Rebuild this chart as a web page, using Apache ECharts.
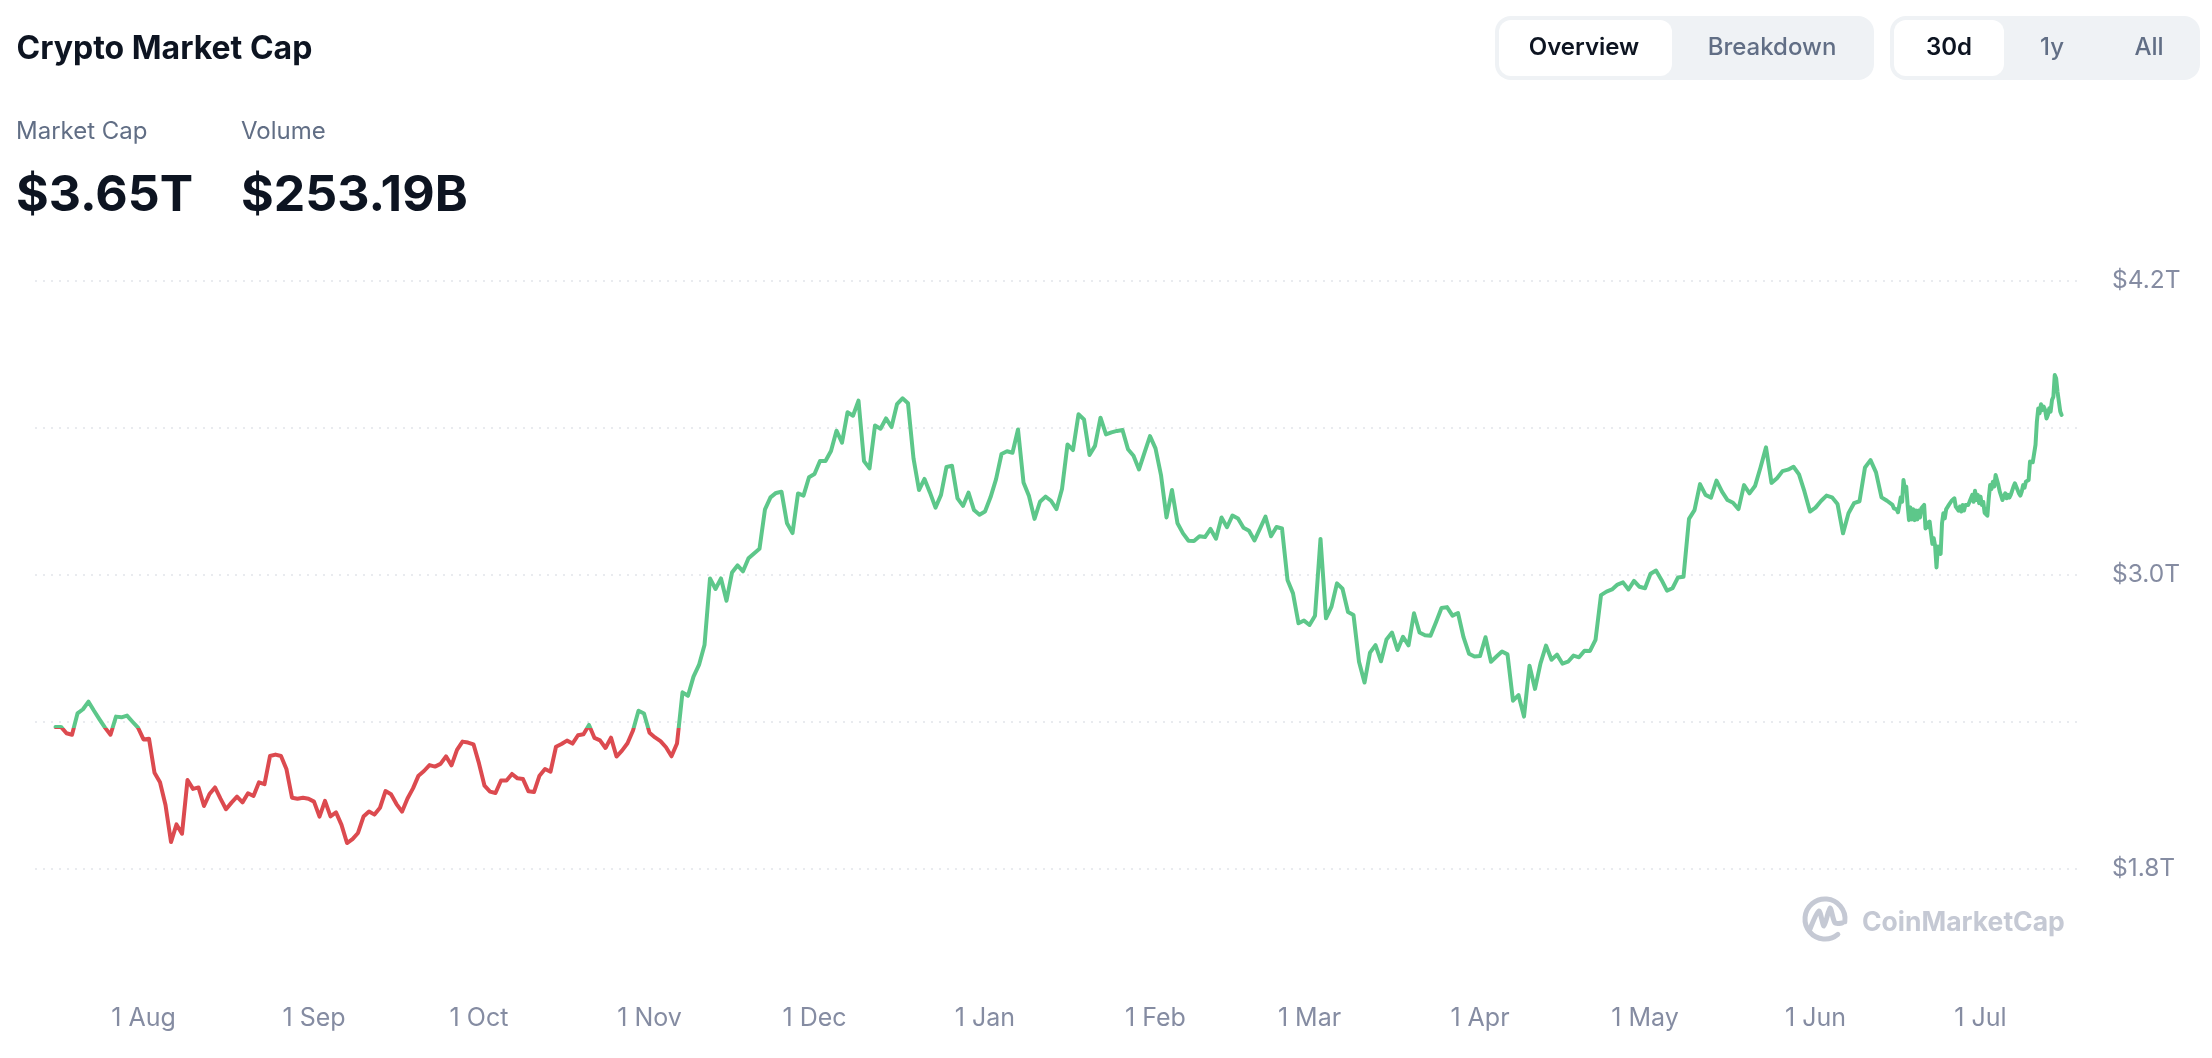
<!DOCTYPE html>
<html>
<head>
<meta charset="utf-8">
<title>Crypto Market Cap</title>
<script src="https://cdn.jsdelivr.net/npm/echarts@6/dist/echarts.min.js"></script>
<style>
html,body{margin:0;padding:0;background:#fff;}
#chart{width:2212px;height:1058px;}
</style>
</head>
<body>
<div id="chart"></div>
<script>
const startDate = '2024-07-16';
const baseline = 2.377; // first value of the period, in $T

// one reading per day, from the start date, $T
const dailyValues = [
2.380,2.380,2.354,2.348,2.435,2.452,2.483,2.446,2.411,2.377,2.348,2.422,2.419,2.426,2.401,2.377,
2.329,2.332,2.193,2.154,2.061,1.910,1.982,1.944,2.163,2.127,2.133,2.057,2.106,2.133,2.087,2.044,
2.071,2.095,2.072,2.109,2.098,2.154,2.146,2.261,2.267,2.261,2.207,2.091,2.087,2.091,2.087,2.075,
2.014,2.078,2.015,2.031,1.980,1.906,1.922,1.947,2.014,2.035,2.022,2.050,2.118,2.105,2.065,
2.034,2.088,2.129,2.181,2.200,2.224,2.218,2.229,2.260,2.223,2.286,2.320,2.316,2.309,2.231,2.140,
2.116,2.110,2.161,2.161,2.188,2.170,2.167,2.117,2.114,2.181,2.208,2.197,2.299,2.310,2.324,2.312,
2.346,2.350,2.388,2.335,2.325,2.294,2.336,2.259,2.283,2.313,2.365,2.446,2.435,2.356,2.337,2.322,
2.297,2.260,2.312,2.521,2.507,2.585,2.633,2.714,
2.986,2.943,2.986,2.895,3.010,3.039,3.015,3.068,3.088,3.107,3.268,3.317,3.335,3.340,3.211,3.171,
3.333,3.324,3.399,3.412,3.465,3.465,3.506,3.589,3.540,3.664,3.650,3.712,3.465,3.435,3.610,3.597,
3.639,3.604,3.697,3.721,3.701,3.476,3.347,3.392,3.336,3.275,3.327,3.441,3.446,3.313,3.282,3.336,
3.265,3.246,3.259,3.317,3.390,3.494,3.505,3.499,3.594,3.378,3.322,3.229,3.299,3.320,3.303,3.269,
3.351,3.533,3.510,3.656,3.635,3.490,3.527,3.642,3.574,3.582,3.588,3.592,3.513,3.487,3.431,3.499,
3.567,3.517,3.408,3.235,3.347,3.211,3.170,3.140,3.139,3.158,3.155,3.188,3.148,3.235,3.195,3.243,
3.231,3.193,3.181,3.141,3.189,3.238,3.158,3.196,3.190,
2.980,2.925,2.803,2.814,2.796,2.834,3.147,2.823,2.871,2.966,2.944,2.849,2.837,2.646,2.561,2.683,
2.714,2.648,2.737,2.765,2.694,2.748,2.713,2.844,2.765,2.754,2.752,2.807,2.865,2.869,2.834,2.845,
2.746,2.679,2.667,2.669,2.746,2.646,2.667,2.688,2.676,2.487,2.510,2.422,2.630,2.535,2.639,2.712,
2.654,2.675,2.638,2.646,2.671,2.664,2.691,2.690,2.735,2.918,2.932,2.941,2.961,2.970,2.941,2.976,
2.952,2.946,3.005,3.018,2.980,2.936,2.946,2.990,2.993,3.229,3.265,3.371,3.327,3.316,3.385,3.340,
3.306,3.295,3.269,3.367,3.333,3.363,3.439,3.521,3.376,3.395,3.424,3.430,3.442,3.411,3.340,3.259,
3.275,3.302,3.324,3.317,3.290,3.170,3.252,3.293,3.301,3.439,3.469,3.419,3.317,3.303
];

// the last 30 days are finer: one reading per quarter day, $T
const intradayValues = [
3.286,3.272,3.265,3.268,3.256,3.259,3.317,3.299,3.388,3.347,3.361,3.286,3.224,3.276,3.227,3.268,
3.224,3.263,3.227,3.263,3.235,3.272,3.279,3.286,3.190,3.214,3.195,3.218,3.170,3.127,3.150,3.118,
3.031,3.116,3.122,3.086,3.211,3.252,3.231,3.268,3.265,3.286,3.282,3.303,3.299,3.313,3.279,3.286,
3.263,3.279,3.259,3.286,3.263,3.286,3.288,3.286,3.299,3.293,3.327,3.299,3.344,3.306,3.327,3.293,
3.320,3.286,3.299,3.254,3.252,3.242,3.313,3.367,3.351,3.381,3.361,3.408,3.388,3.367,3.340,3.333,
3.306,3.320,3.333,3.313,3.327,3.316,3.327,3.320,3.361,3.374,3.367,3.347,3.333,3.324,3.340,3.367,
3.356,3.381,3.378,3.388,3.463,3.456,3.460,3.463,3.531,3.626,3.680,3.660,3.697,3.673,3.687,3.673,
3.639,3.653,3.680,3.667,3.714,3.728,3.816,3.803,3.748,3.751,3.667,3.653
];

const xTickDates = ['2024-08-01','2024-09-01','2024-10-01','2024-11-01','2024-12-01','2025-01-01','2025-02-01','2025-03-01','2025-04-01','2025-05-01','2025-06-01','2025-07-01'];
const xTickLabels = ['1 Aug','1 Sep','1 Oct','1 Nov','1 Dec','1 Jan','1 Feb','1 Mar','1 Apr','1 May','1 Jun','1 Jul'];
const yTickValues = [1.8,3.0,4.2];

const titleText = 'Crypto Market Cap';
const statLabels = ['Market Cap','Volume'];
const statValues = ['$3.65T','$253.19B'];
const viewTabs = ['Overview','Breakdown'];
const rangeTabs = ['30d','1y','All'];
const brandName = 'CoinMarketCap';

const DAY = 86400000;
const toTime = s => { const p = s.split('-').map(Number); return new Date(p[0], p[1]-1, p[2]).getTime(); };
const t0 = toTime(startDate);
const seriesData = dailyValues.map((v,i)=>[t0+i*DAY,v])
  .concat(intradayValues.map((v,k)=>[t0+(dailyValues.length+k/4)*DAY,v]));
const xTickTimes = xTickDates.map(toTime);

const FONT = 'Inter, "Noto Sans", sans-serif';
const INK = '#0d1421', MUTED = '#616e85', AXIS = '#858ca2', PILL = '#eff2f5', MARK = '#c5c9d4';

const text = (x,y,t,size,weight,fill,align) => ({
  type:'text', silent:true,
  style:{x,y,text:t,fill,align:align||'left',verticalAlign:'middle',
         font:`${weight} ${size}px ${FONT}`}
});
const rect = (x,y,w,h,r,fill) => ({type:'rect',silent:true,shape:{x,y,width:w,height:h,r},style:{fill}});

const elements = [
  text(16.5,49.5,titleText,32,700,INK),
  text(16,131.5,statLabels[0],24,400,MUTED),
  text(241,131.5,statLabels[1],24,400,MUTED),
  text(16,196,statValues[0],50,700,INK),
  text(241,196,statValues[1],50,700,INK),
  rect(1495,16,379,64,16,PILL),
  rect(1499,20,173,56,12,'#ffffff'),
  text(1584,48,viewTabs[0],24,600,INK,'center'),
  text(1772,48,viewTabs[1],24,500,MUTED,'center'),
  rect(1890,16,310,64,16,PILL),
  rect(1894,20,110,56,12,'#ffffff'),
  text(1949,48,rangeTabs[0],24,600,INK,'center'),
  text(2052,48,rangeTabs[1],24,500,MUTED,'center'),
  text(2149,48,rangeTabs[2],24,500,MUTED,'center'),
  {type:'arc',silent:true,
   shape:{cx:1825,cy:919,r:20,startAngle:50*Math.PI/180,endAngle:368*Math.PI/180,clockwise:true},
   style:{stroke:MARK,lineWidth:5,fill:null,lineCap:'round'}},
  {type:'polyline',silent:true,
   shape:{points:[[1810,929],[1819,911],[1824,926],[1830,908],[1835,923],[1842,923]],smooth:0.25},
   style:{stroke:MARK,lineWidth:5,fill:null,lineCap:'round',lineJoin:'round'}},
  text(1862,923,brandName,26.5,700,MARK)
];

const chart = echarts.init(document.getElementById('chart'), null, {renderer:'canvas'});
chart.setOption({
  animation:false,
  backgroundColor:'#ffffff',
  textStyle:{fontFamily:FONT},
  grid:{left:35,right:135,top:281,bottom:189,containLabel:false},
  xAxis:{
    type:'value',
    min:t0-3.727*DAY,
    max:t0+367.545*DAY,
    axisLine:{show:false},
    axisTick:{show:false},
    splitLine:{show:false},
    axisLabel:{
      customValues:xTickTimes,
      margin:137,
      fontSize:25,
      color:AXIS,
      fontFamily:FONT,
      hideOverlap:false,
      formatter:v=>xTickLabels[xTickTimes.indexOf(v)]
    }
  },
  yAxis:{
    type:'value',
    position:'right',
    min:1.8,max:4.2,interval:0.6,
    axisLine:{show:false},
    axisTick:{show:false},
    splitLine:{show:true,lineStyle:{color:'#e9ebef',width:2,type:[2,6]}},
    axisLabel:{
      customValues:yTickValues,
      margin:35,
      fontSize:24.5,
      padding:[4,0,0,0],
      color:AXIS,
      fontFamily:FONT,
      formatter:v=>'$'+v.toFixed(1)+'T'
    }
  },
  visualMap:{
    type:'piecewise',show:false,seriesIndex:0,dimension:1,
    pieces:[{gt:baseline,lte:4.2,color:'#5dc78a'},{gte:1.8,lte:baseline,color:'#dc4a4f'}]
  },
  series:[{
    type:'line',
    data:seriesData,
    showSymbol:false,
    smooth:false,
    sampling:false,
    lineStyle:{width:4,cap:'round',join:'round'}
  }],
  graphic:{elements}
});
</script>
</body>
</html>
